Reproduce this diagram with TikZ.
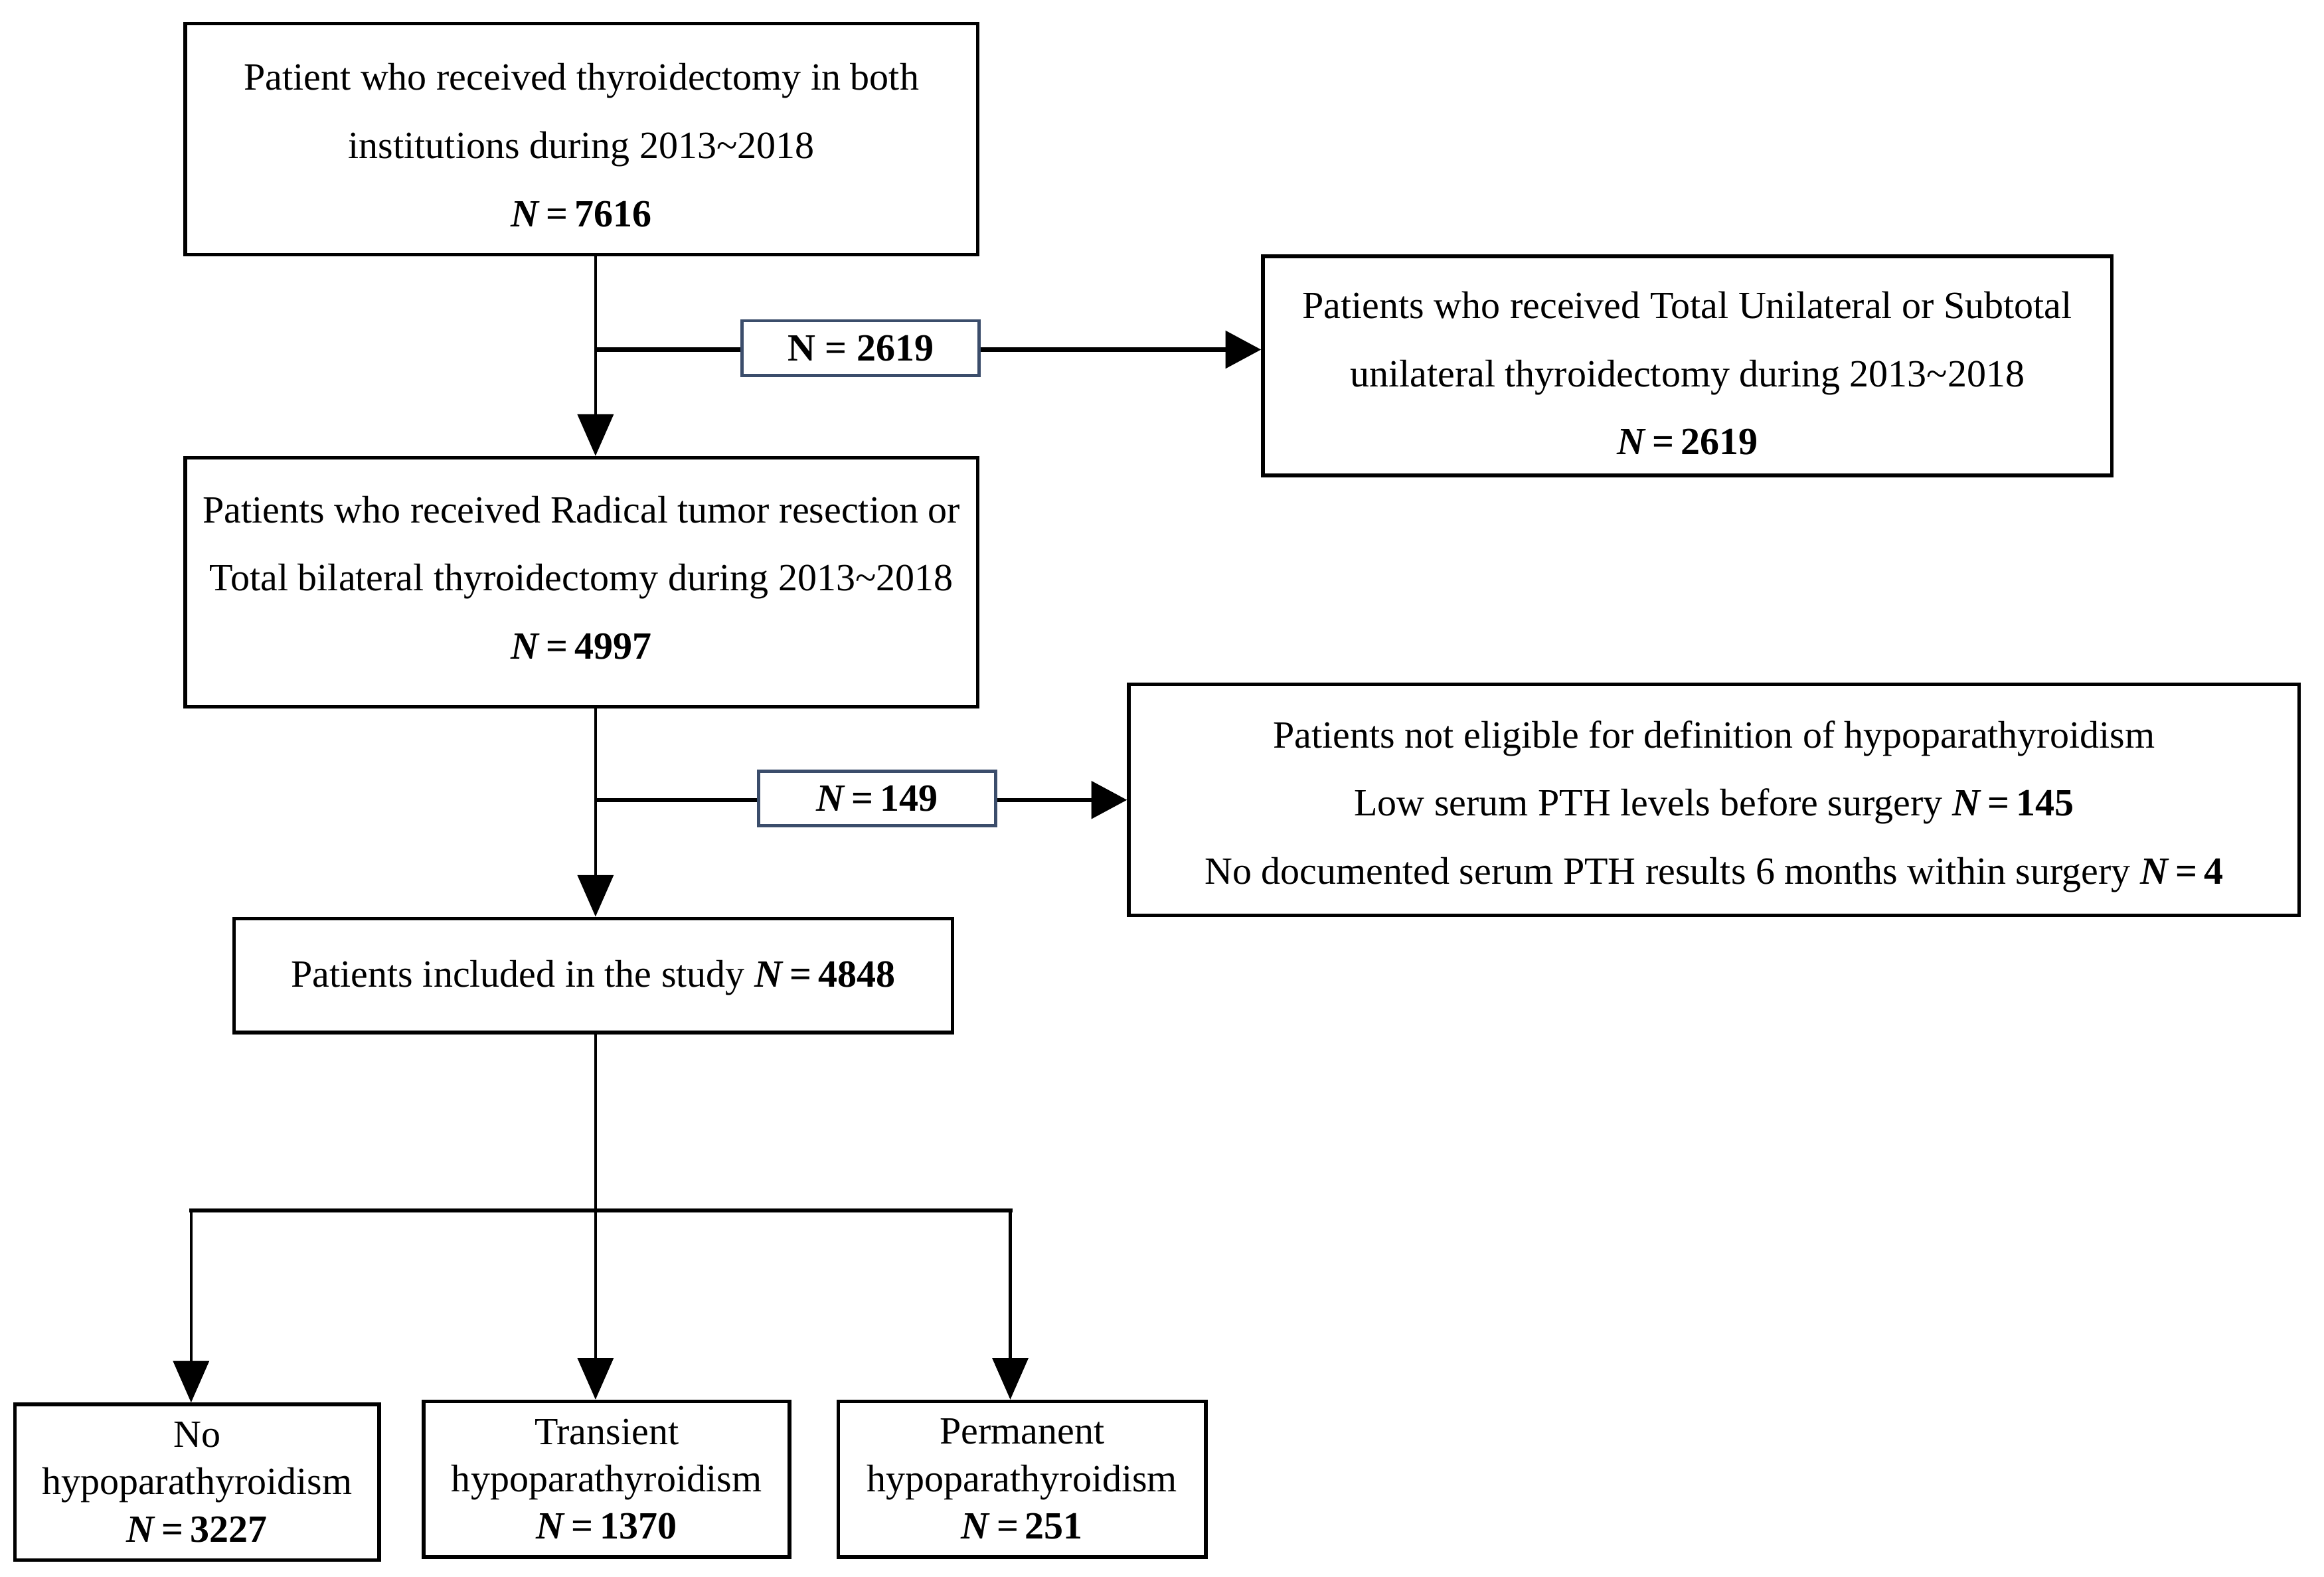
\documentclass[tikz,border=0pt]{standalone}
\usepackage{fontspec}
\setmainfont{Liberation Serif}
\usetikzlibrary{arrows.meta}
\definecolor{labblue}{HTML}{3B4D6B}
\newcommand{\NN}[1]{\textbf{\textit{N}\,=\,#1}}
\begin{document}
\begin{tikzpicture}[x=0.5pt,y=-0.5pt,scale=0.9963,transform shape,
  box/.style={draw,line width=1.2pt,inner sep=0pt},
  txt/.style={align=center,inner sep=0pt,font=\fontsize{13}{23}\selectfont},
  smalltxt/.style={align=center,inner sep=0pt,font=\fontsize{13}{16}\selectfont},
  labbox/.style={draw=labblue,line width=1.1pt,inner sep=0pt,align=center,
    minimum width=80pt,minimum height=18.5pt,font=\fontsize{13}{16}\selectfont},
  conn/.style={line width=1pt},
  hconn/.style={line width=1.4pt},
  arr/.style={conn,-{Triangle[length=14pt,width=12pt]}},
  harr/.style={hconn,-{Triangle[length=12pt,width=12.5pt]}}]
\useasboundingbox (0,0) rectangle (1568.8,1064.5);
% boxes
\node[box,minimum width=267.5pt,minimum height=78pt,
  label={[txt,yshift=-2pt]center:{Patient who received thyroidectomy in both\\ institutions during 2013\textasciitilde2018\\ \NN{7616}}}] (b1) at (392.5,94) {};
\node[box,minimum width=286.5pt,minimum height=74pt,
  label={[txt,yshift=-2.5pt]center:{Patients who received Total Unilateral or Subtotal\\ unilateral thyroidectomy during 2013\textasciitilde2018\\ \NN{2619}}}] (b3) at (1139,247) {};
\node[box,minimum width=267.5pt,minimum height=84pt,
  label={[txt,yshift=1.5pt]center:{Patients who received Radical tumor resection or\\ Total bilateral thyroidectomy during 2013\textasciitilde2018\\ \NN{4997}}}] (b2) at (392.5,393) {};
\node[box,minimum width=395pt,minimum height=78pt,
  label={[txt,yshift=-2.2pt]center:{Patients not eligible for definition of hypoparathyroidism\\ Low serum PTH levels before surgery \NN{145}\\ No documented serum PTH results 6 months within surgery \NN{4}}}] (b5) at (1157,540) {};
\node[box,minimum width=242.5pt,minimum height=38.5pt,
  label={[txt,yshift=-0.8pt]center:{Patients included in the study \NN{4848}}}] (b4) at (400.5,658.5) {};
\node[box,minimum width=123pt,minimum height=52.5pt,
  label={[smalltxt]center:{No\\ hypoparathyroidism\\ \NN{3227}}}] (b6) at (133,1000.5) {};
\node[box,minimum width=123.5pt,minimum height=52.5pt,
  label={[smalltxt]center:{Transient\\ hypoparathyroidism\\ \NN{1370}}}] (b7) at (409.5,998.5) {};
\node[box,minimum width=124pt,minimum height=52.5pt,
  label={[smalltxt]center:{Permanent\\ hypoparathyroidism\\ \NN{251}}}] (b8) at (690,998.5) {};
% label boxes
\node[labbox] (l1) at (581,235) {\textbf{N = 2619}};
\node[labbox] (l2) at (592,539) {\NN{149}};
% coordinates
\coordinate (t) at (402,0);
\coordinate (j1) at (402,236);
\coordinate (j2) at (402,540);
\coordinate (s) at (402,817);
\coordinate (sl) at (129,817);
\coordinate (sr) at (682,817);
% connectors
\draw[arr] (b1.south -| t) -- (b2.north -| t);
\draw[hconn] (j1) -- (l1.west |- j1);
\draw[harr] (l1.east |- j1) -- (j1 -| b3.west);
\draw[arr] (b2.south -| t) -- (b4.north -| t);
\draw[hconn] (j2) -- (l2.west |- j2);
\draw[harr] (l2.east |- j2) -- (j2 -| b5.west);
\draw[conn] (b4.south -| t) -- (s);
\draw[hconn,line cap=rect] (sl) -- (sr);
\draw[arr] (sl) -- (sl |- b6.north);
\draw[arr] (s) -- (s |- b7.north);
\draw[arr] (sr) -- (sr |- b8.north);
\end{tikzpicture}
\end{document}
